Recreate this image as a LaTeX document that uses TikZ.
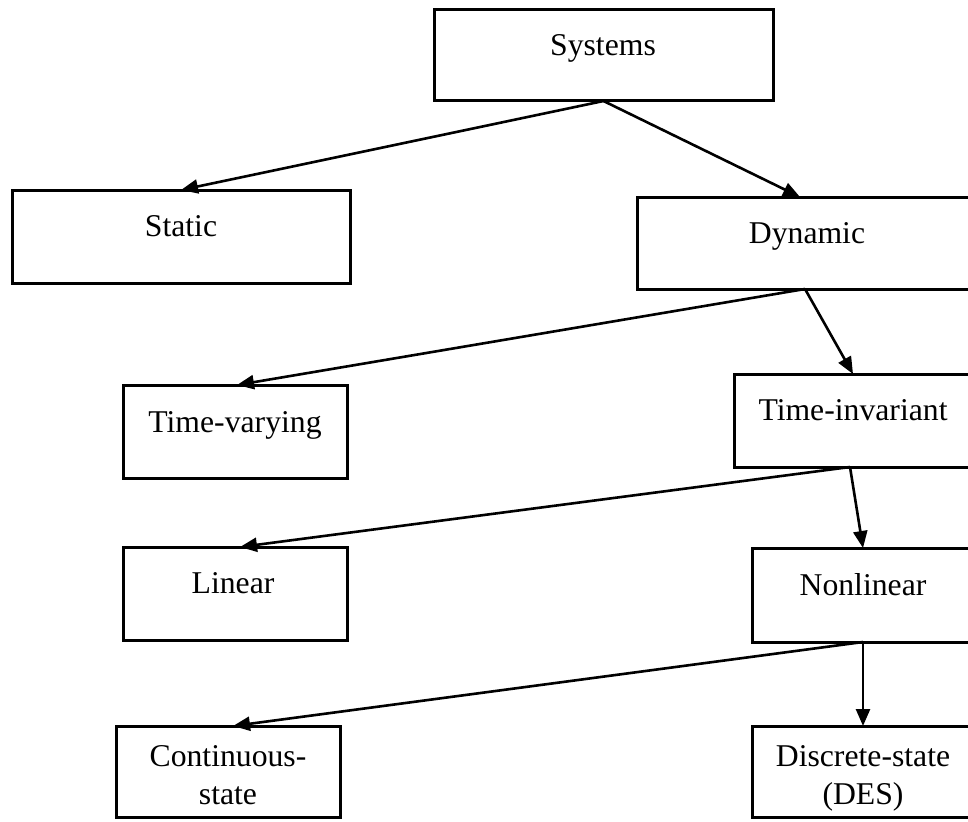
\documentclass[tikz,border=0pt]{standalone}
\usepackage{fontspec}
\setmainfont{Liberation Serif}
\usetikzlibrary{arrows.meta,calc}
\begin{document}
\begin{tikzpicture}[x=1pt,y=-1pt,
  box/.style={draw=black,line width=3pt,rectangle,inner sep=0pt,outer sep=0pt,anchor=north west},
  lbl/.style={font=\fontsize{31.7}{37.5}\selectfont,inner sep=0pt,anchor=base,align=center},
  link/.style={line width=2.6pt,-{Triangle[length=17pt,width=14pt]}}]
\useasboundingbox (0,0) rectangle (968,821);
\clip (0,0) rectangle (968,821);
\fill[white] (0,0) rectangle (968,821);

% boxes: top-left corner, width, height
\node[box,minimum width=339pt,minimum height=91pt] (sys) at (434,10) {};
\node[box,minimum width=338pt,minimum height=93pt] (stat) at (12,190) {};
\node[box,minimum width=343pt,minimum height=92pt] (dyn) at (637,197) {};
\node[box,minimum width=224pt,minimum height=93pt] (tv) at (123,385) {};
\node[box,minimum width=246pt,minimum height=93pt] (ti) at (734,374) {};
\node[box,minimum width=224pt,minimum height=93pt] (lin) at (123,547) {};
\node[box,minimum width=228pt,minimum height=94pt] (nl) at (752,548) {};
\node[box,minimum width=224pt,minimum height=91pt] (cs) at (116,726) {};
\node[box,minimum width=228pt,minimum height=91pt] (ds) at (752,726) {};

% labels (base anchor = baseline of the last line)
\node[lbl] (sys-t) at (603,56) {Systems};
\node[lbl] (stat-t) at (181,236) {Static};
\node[lbl] (dyn-t) at (807,243) {Dynamic};
\node[lbl] (tv-t) at (235,432) {Time-varying};
\node[lbl] (ti-t) at (853,420) {Time-invariant};
\node[lbl] (lin-t) at (233,593) {Linear};
\node[lbl] (nl-t) at (863,595) {Nonlinear};
\node[lbl] (cs-t) at (228,804) {Continuous-\\state};
\node[lbl] (ds-t) at (863,804) {Discrete-state\\(DES)};

% connectors
\coordinate (dyn-in) at ($(dyn.north west)+(163,0)$);
\coordinate (dyn-out) at ($(dyn.south west)+(168,0)$);
\coordinate (ti-in) at ($(ti.north west)+(119,0)$);
\coordinate (ti-out) at ($(ti.south west)+(116,0)$);
\coordinate (nl-in) at ($(nl.north west)+(111,0)$);
\coordinate (nl-out) at ($(nl.south west)+(111,0)$);
\coordinate (ds-in) at ($(ds.north west)+(111,0)$);

\draw[link] (sys.south) -- (stat.north);
\draw[link] (sys.south) -- (dyn-in);
\draw[link] (dyn-out) -- ($(tv.north)+(2,0)$);
\draw[link] (dyn-out) -- (ti-in);
\draw[link] (ti-out) -- ($(lin.north)+(5,0)$);
\draw[link] (ti-out) -- (nl-in);
\draw[link] (nl-out) -- ($(cs.north)+(5,0)$);
\draw[link] (nl-out) -- (ds-in);
\end{tikzpicture}
\end{document}
